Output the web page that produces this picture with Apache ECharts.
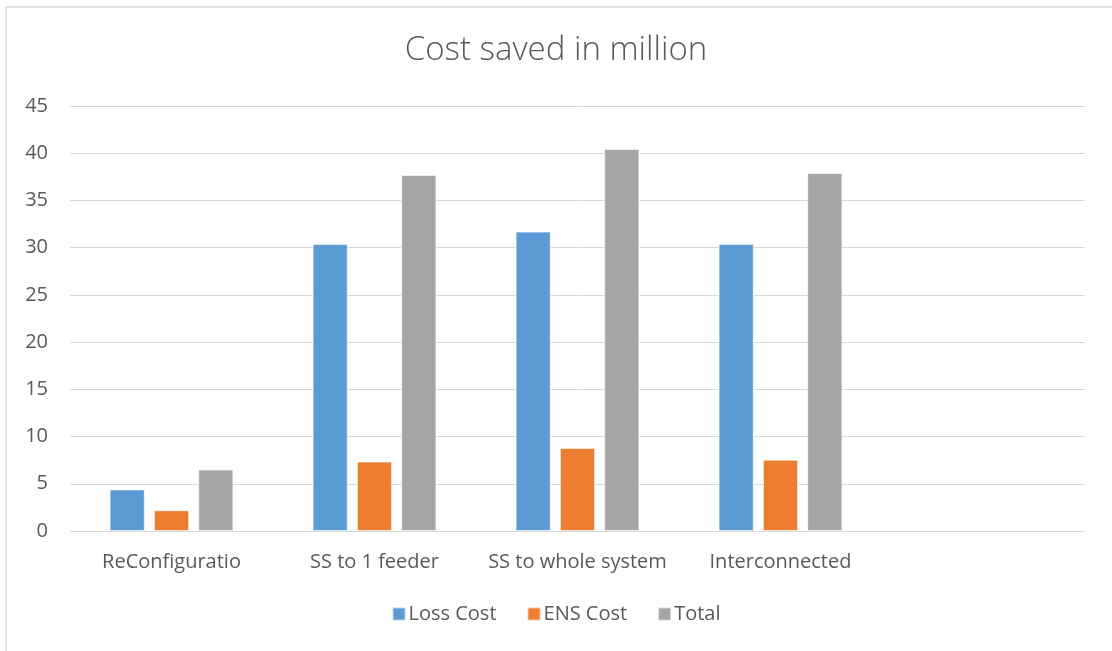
<!DOCTYPE html>
<html>
<head>
<meta charset="utf-8">
<script src="https://cdn.jsdelivr.net/npm/echarts@6/dist/echarts.min.js"></script>
<style>
  html, body { margin: 0; padding: 0; background: #ffffff; }
  #chart { width: 1112px; height: 651px; }
</style>
</head>
<body>
<div id="chart"></div>
<script>
// Scenario categories (the last slot is left empty on purpose)
const categories = ['ReConfiguratio', 'SS to 1 feeder', 'SS to whole system', 'Interconnected', ''];

// Savings per scenario, in million
const lossCost = [4.4, 30.4, 31.7, 30.4, null];
const ensCost  = [2.2, 7.35, 8.8, 7.55, null];
const total    = [6.5, 37.7, 40.45, 37.9, null];

const yTicks = { min: 0, max: 45, interval: 5 };

const textColor = '#595959';
const font = 'Open Sans';

const chart = echarts.init(document.getElementById('chart'), null, { renderer: 'canvas' });

function barSeries(name, data, color) {
  return {
    name: name,
    type: 'bar',
    data: data,
    barGap: '26%',
    barCategoryGap: '39%',
    itemStyle: { color: color, borderColor: 'rgba(255,255,255,0.6)', borderWidth: 1 },
    emphasis: { disabled: true }
  };
}

chart.setOption({
  animation: false,
  backgroundColor: '#ffffff',
  graphic: [{
    type: 'rect',
    shape: { x: 6, y: 7, width: 1200, height: 700 },
    style: { fill: 'none', stroke: '#D9D9D9', lineWidth: 1.5 },
    silent: true
  }],
  title: {
    text: 'Cost saved in million',
    left: 'center',
    top: 29,
    textStyle: { fontFamily: font, fontSize: 33, fontWeight: 300, color: textColor }
  },
  legend: {
    bottom: 22,
    left: 'center',
    itemWidth: 13,
    itemHeight: 13,
    itemGap: 30,
    icon: 'rect',
    textStyle: { fontFamily: font, fontSize: 20, color: textColor, padding: [0, 0, 0, -2] },
    data: ['Loss Cost', 'ENS Cost', 'Total']
  },
  grid: { left: 70, right: 27, top: 106, bottom: 120, containLabel: false },
  xAxis: {
    type: 'category',
    data: categories,
    axisTick: { show: false },
    axisLine: { show: true, lineStyle: { color: '#D9D9D9', width: 1 } },
    axisLabel: { fontFamily: font, fontSize: 20, color: textColor, margin: 21, interval: 0 }
  },
  yAxis: {
    type: 'value',
    min: yTicks.min,
    max: yTicks.max,
    interval: yTicks.interval,
    axisLine: { show: false },
    axisTick: { show: false },
    axisLabel: { fontFamily: font, fontSize: 20, color: textColor, margin: 22 },
    splitLine: { lineStyle: { color: '#D9D9D9', width: 1 } }
  },
  series: [
    barSeries('Loss Cost', lossCost, '#5B9BD5'),
    barSeries('ENS Cost', ensCost, '#ED7D31'),
    barSeries('Total', total, '#A5A5A5')
  ]
});
</script>
</body>
</html>
